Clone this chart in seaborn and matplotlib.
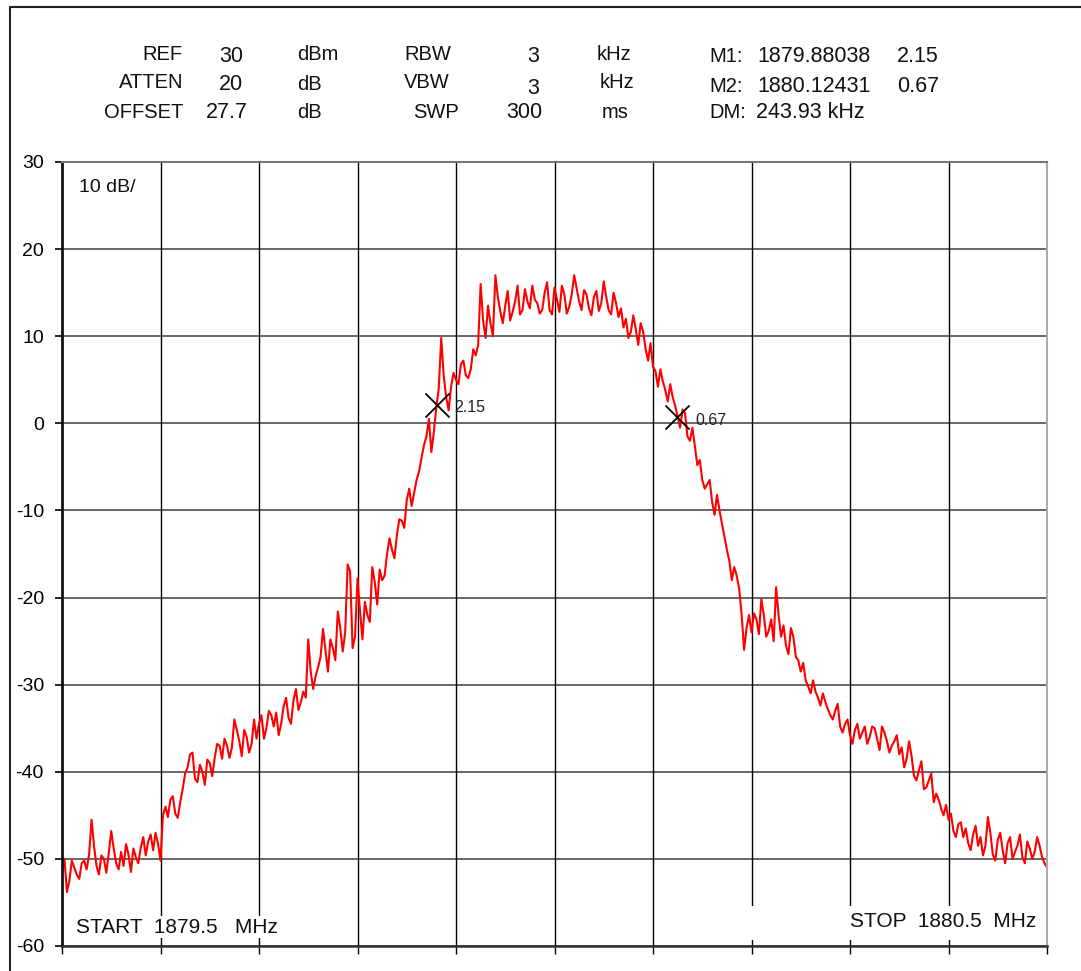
import numpy as np
import pandas as pd
import matplotlib
matplotlib.use("Agg")
import matplotlib.pyplot as plt
from matplotlib.lines import Line2D
from matplotlib.patches import Rectangle
import seaborn as sns

# ---------------- data ----------------
start_mhz = 1879.5
stop_mhz = 1880.5
level_dbm = [
    -51.5, -50.0, -53.8, -52.5, -50.2, -51.0, -51.8, -52.3, -50.5, -50.2,
    -51.2, -49.5, -45.5, -48.5, -50.8, -51.8, -49.6, -50.0, -51.6, -49.3,
    -46.8, -48.8, -50.5, -51.2, -49.2, -50.8, -48.3, -49.5, -51.5, -48.8,
    -49.8, -50.5, -48.7, -47.5, -49.6, -48.0, -47.2, -49.0, -47.0, -48.3,
    -50.2, -45.0, -44.0, -45.2, -43.2, -42.8, -44.8, -45.3, -43.5, -42.0,
    -40.2, -39.5, -38.0, -37.8, -40.8, -41.2, -39.2, -40.0, -41.5, -38.6,
    -39.0, -40.5, -38.4, -36.8, -37.0, -38.5, -36.2, -37.0, -38.4, -37.2,
    -34.0, -35.2, -36.5, -38.2, -35.2, -36.0, -37.8, -36.8, -34.0, -36.2,
    -34.5, -33.5, -36.2, -35.0, -33.0, -33.5, -34.8, -33.2, -35.8, -34.5,
    -32.5, -31.5, -33.8, -34.5, -31.8, -30.5, -32.9, -32.0, -30.8, -31.5,
    -24.8, -28.5, -30.5, -29.0, -28.0, -26.8, -23.6, -26.0, -28.5, -24.8,
    -25.8, -27.2, -21.6, -23.5, -26.2, -24.0, -16.2, -17.0, -25.8, -24.5,
    -17.8, -21.5, -24.8, -20.5, -22.0, -22.8, -16.5, -18.2, -20.8, -16.8,
    -18.0, -17.5, -15.0, -13.2, -14.5, -15.5, -12.8, -11.0, -11.2, -12.0,
    -8.8, -7.5, -9.5, -8.0, -6.5, -5.5, -4.0, -2.5, -1.5, 0.5,
    -3.3, -1.0, 1.8, 4.0, 9.8, 5.5, 3.0, 1.5, 4.2, 5.8,
    5.0, 4.5, 6.8, 7.2, 5.5, 5.2, 6.2, 8.5, 7.8, 9.0,
    16.0, 11.8, 9.8, 13.5, 11.5, 10.0, 17.0, 14.5, 12.8, 11.5,
    13.5, 15.2, 11.8, 12.8, 14.0, 15.8, 12.5, 13.0, 15.4, 14.0,
    13.2, 15.8, 14.2, 13.8, 12.6, 13.0, 15.0, 16.2, 13.0, 12.5,
    15.6, 14.2, 12.8, 15.8, 14.8, 12.6, 13.4, 14.8, 17.0, 15.5,
    14.0, 13.0, 15.3, 14.8, 13.2, 12.4, 14.5, 15.2, 12.9, 13.8,
    16.3, 14.5, 13.0, 12.5, 15.0, 13.8, 12.2, 13.2, 11.0, 12.0,
    9.8, 10.5, 12.4, 10.8, 9.0, 11.5, 10.5, 8.5, 7.2, 9.2,
    6.5, 6.0, 4.2, 6.2, 4.8, 3.8, 2.5, 4.5, 3.0, 2.0,
    0.8, -0.5, 1.6, 1.2, -1.5, -2.0, -0.5, -2.6, -4.8, -4.2,
    -6.5, -7.5, -7.0, -6.5, -9.0, -10.5, -8.2, -10.0, -11.5, -13.0,
    -14.5, -15.8, -18.0, -16.5, -17.5, -19.0, -22.0, -26.0, -23.5, -22.0,
    -24.0, -21.8, -22.5, -24.2, -20.2, -22.0, -24.5, -23.8, -22.5, -25.0,
    -18.8, -22.0, -24.5, -23.2, -25.5, -26.5, -23.5, -24.5, -26.8, -27.2,
    -28.5, -27.5, -29.5, -30.2, -31.0, -29.5, -30.8, -31.5, -32.4, -31.0,
    -32.0, -32.8, -33.5, -34.0, -33.0, -32.2, -34.8, -35.5, -34.5, -34.0,
    -35.8, -36.8, -35.2, -34.5, -36.2, -35.5, -34.8, -36.8, -36.0, -34.8,
    -35.0, -36.2, -37.5, -34.8, -35.5, -36.5, -37.8, -37.0, -36.5, -35.8,
    -38.0, -37.2, -39.5, -38.5, -36.5, -38.2, -40.5, -41.0, -39.8, -38.8,
    -42.0, -41.8, -41.0, -40.2, -43.5, -42.5, -43.2, -44.2, -45.0, -43.8,
    -45.5, -44.8, -46.8, -47.5, -46.0, -45.8, -47.5, -46.5, -48.2, -49.0,
    -47.2, -46.2, -48.5, -47.5, -49.6, -48.5, -45.2, -47.0, -49.5, -50.2,
    -47.8, -47.0, -49.0, -50.5, -48.2, -47.5, -50.0, -49.2, -48.5, -47.2,
    -49.8, -50.5, -48.0, -48.8, -50.0, -49.2, -47.5, -48.5, -49.8, -50.5,
    -51.0,
]
marker_freq = [1879.88038, 1880.12431]
marker_level = [2.15, 0.67]
marker_text = ["2.15", "0.67"]

y_ticks = [-60, -50, -40, -30, -20, -10, 0, 10, 20, 30]
x_divisions = 10

# header words (text, x_px, y_px, ha)
header_words = [
    ("REF", 183, 55, "right"), ("dBm", 297, 55, "left"), ("RBW", 428, 55, "center"),
    ("kHz", 597, 55, "left"), ("M1:", 709, 57, "left"),
    ("ATTEN", 183, 83, "right"), ("dB", 297, 84, "left"), ("VBW", 427, 83, "center"),
    ("kHz", 600, 83, "left"), ("M2:", 709, 87, "left"),
    ("OFFSET", 183, 112, "right"), ("dB", 297, 113, "left"), ("SWP", 436, 112, "center"),
    ("ms", 602, 113, "left"), ("DM:", 709, 113, "left"),
]
# header numbers (text, x_px, y_px, ha)
header_numbers = [
    ("30", 231, 56, "center"), ("3", 533, 56, "center"),
    ("1879.88038", 757, 57, "left"), ("2.15", 897, 57, "left"),
    ("20", 231, 84, "center"), ("3", 533, 88, "center"),
    ("1880.12431", 757, 87, "left"), ("0.67", 897, 87, "left"),
    ("27.7", 227, 113, "center"), ("300", 524, 113, "center"),
    ("243.93 kHz", 756, 113, "left"),
]
scale_text = "10 dB/"
start_text = "START  1879.5   MHz"
stop_text = "STOP  1880.5  MHz"

# ---------------- figure ----------------
W, H = 1081, 971
sns.set_theme(style="white")
plt.rcParams["font.family"] = ["Liberation Sans", "DejaVu Sans"]

fig = plt.figure(figsize=(W / 100, H / 100), dpi=100)
fig.patch.set_facecolor("white")

L, R, T, B = 62, 1047, 162, 946
ax = fig.add_axes([L / W, 1 - B / H, (R - L) / W, (B - T) / H])
ax.set_facecolor("white")

freq = np.linspace(start_mhz, stop_mhz, len(level_dbm))
df = pd.DataFrame({"freq": freq, "level": level_dbm})

# grid
x_grid = np.linspace(start_mhz, stop_mhz, x_divisions + 1)
for yv in y_ticks:
    ax.axhline(yv, color="#5a5a5a", lw=1.3, zorder=1)
for xv in x_grid[1:-1]:
    ax.axvline(xv, color="black", lw=1.0, zorder=1)

# white box behind STOP label (hides grid)
ax.add_patch(Rectangle((0.6934, 0.0077), 0.2995, 0.0433, transform=ax.transAxes,
                       facecolor="white", edgecolor="none", zorder=2))

sns.lineplot(data=df, x="freq", y="level", color="#ff0000", lw=1.5, ax=ax,
             zorder=3, estimator=None, sort=False)

sns.scatterplot(x=marker_freq, y=marker_level, marker="x", s=300, color="black",
                linewidth=1.3, ax=ax, zorder=4)
for fx, fy, t in zip(marker_freq, marker_level, marker_text):
    ax.annotate(t, (fx, fy), xytext=(13, -2), textcoords="offset points",
                fontsize=11.5, color="#222222", va="center", ha="left", zorder=5)

ax.set_xlim(start_mhz, stop_mhz)
ax.set_ylim(-60, 30)
ax.set_yticks(y_ticks)
ax.set_yticklabels([str(v) for v in y_ticks])
ax.set_xticks(x_grid)
ax.set_xticklabels([])
ax.set_xlabel("")
ax.set_ylabel("")
ax.tick_params(axis="y", direction="out", length=5, width=1.2, pad=8,
               labelsize=14, colors="black", left=True)
ax.tick_params(axis="x", direction="out", length=6, width=1.0, bottom=True,
               colors="black")

for side, c, w in [("left", "#111111", 2.0), ("bottom", "#333333", 1.8),
                   ("top", "#777777", 1.5), ("right", "#aaaaaa", 1.5)]:
    ax.spines[side].set_visible(True)
    ax.spines[side].set_color(c)
    ax.spines[side].set_linewidth(w)
    ax.spines[side].set_zorder(6)

ax.text(0.017, 0.968, scale_text, transform=ax.transAxes, fontsize=14,
        ha="left", va="center", color="#111111", zorder=7)
ax.text(0.014, 0.024, start_text, transform=ax.transAxes, fontsize=15,
        ha="left", va="center", color="#111111", zorder=7,
        bbox=dict(facecolor="white", edgecolor="none", pad=1.0))
ax.text(0.989, 0.031, stop_text, transform=ax.transAxes, fontsize=15,
        ha="right", va="center", color="#111111", zorder=7)

for t, x, y, ha in header_words:
    fig.text(x / W, 1 - y / H, t, fontsize=14.5, ha=ha, va="center", color="#111111")
for t, x, y, ha in header_numbers:
    fig.text(x / W, 1 - y / H, t, fontsize=15.5, ha=ha, va="center", color="#111111")

# outer frame (left and top edges visible)
fig.add_artist(Line2D([10 / W, 10 / W], [0, 1 - 7 / H], color="#222222", lw=1.5))
fig.add_artist(Line2D([10 / W, 1], [1 - 7 / H, 1 - 7 / H], color="#222222", lw=1.5))

fig.savefig("out.png", dpi=100, facecolor="white")
